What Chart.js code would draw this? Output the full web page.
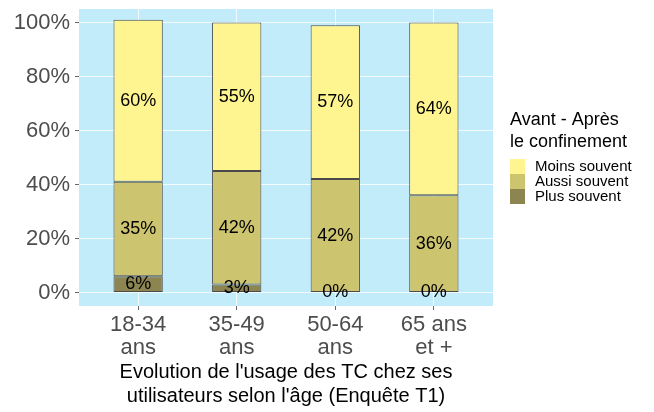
<!DOCTYPE html>
<html>
<head>
<meta charset="utf-8">
<script src="https://cdn.jsdelivr.net/npm/chart.js@4/dist/chart.umd.min.js"></script>
<style>
  html, body { margin: 0; padding: 0; background: #fff; }
  #wrap { width: 654px; height: 412px; }
</style>
</head>
<body>
<div id="wrap"><canvas id="chart" width="654" height="412"></canvas></div>
<script>
const ageGroups = [["18-34", "ans"], ["35-49", "ans"], ["50-64", "ans"], ["65 ans", "et +"]];
const plusSouvent = [6, 3, 0, 0];
const aussiSouvent = [35, 42, 42, 36];
const moinsSouvent = [60, 55, 57, 64];
const yTicks = [0, 20, 40, 60, 80, 100];

const seriesNames = ["Plus souvent", "Aussi souvent", "Moins souvent"];
const seriesColors = ["#8d8551", "#cdc46f", "#fef591"];
const legendTitle = ["Avant - Après", "le confinement"];
const axisTitle = ["Evolution de l'usage des TC chez ses", "utilisateurs selon l'âge (Enquête T1)"];

const FONT = "'Liberation Sans', Arial, sans-serif";

function toPoints(values) {
  return values.map((v, i) => ({ x: i + 1, y: v }));
}

// light blue panel behind the plot
const panelBg = {
  id: "panelBg",
  beforeDraw(chart) {
    const { ctx, chartArea: a } = chart;
    ctx.save();
    ctx.fillStyle = "#c3ecfa";
    ctx.fillRect(a.left, a.top, a.right - a.left, a.bottom - a.top);
    ctx.restore();
  }
};

// percent labels centred in each segment
const segLabels = {
  id: "segLabels",
  afterDatasetsDraw(chart) {
    const { ctx } = chart;
    ctx.save();
    ctx.font = "18px " + FONT;
    ctx.fillStyle = "#000";
    ctx.textAlign = "center";
    ctx.textBaseline = "middle";
    chart.data.datasets.forEach((ds, di) => {
      const meta = chart.getDatasetMeta(di);
      meta.data.forEach((bar, i) => {
        const v = ds.data[i].y;
        ctx.fillText(v + "%", bar.x, (bar.y + bar.base) / 2);
      });
    });
    ctx.restore();
  }
};

// x axis title and legend, drawn by hand
const extras = {
  id: "extras",
  afterDraw(chart) {
    const { ctx, chartArea: a } = chart;
    ctx.save();
    ctx.fillStyle = "#000";
    ctx.textBaseline = "middle";

    ctx.font = "20px " + FONT;
    ctx.textAlign = "center";
    const cx = (a.left + a.right) / 2;
    ctx.fillText(axisTitle[0], cx, 372);
    ctx.fillText(axisTitle[1], cx, 396);

    ctx.textAlign = "left";
    ctx.textBaseline = "alphabetic";
    ctx.font = "18px " + FONT;
    ctx.fillText(legendTitle[0], 510, 125);
    ctx.fillText(legendTitle[1], 510, 147);

    ctx.font = "15px " + FONT;
    ctx.textBaseline = "middle";
    for (let k = 0; k < 3; k++) {
      const idx = 2 - k;
      const y = 159 + k * 15;
      ctx.fillStyle = seriesColors[idx];
      ctx.fillRect(510, y, 15, 15);
      ctx.fillStyle = "#000";
      ctx.fillText(seriesNames[idx], 535, y + 8);
    }
    ctx.restore();
  }
};

const ctx = document.getElementById("chart").getContext("2d");
new Chart(ctx, {
  type: "bar",
  data: {
    datasets: [plusSouvent, aussiSouvent, moinsSouvent].map((vals, i) => ({
      label: seriesNames[i],
      data: toPoints(vals),
      backgroundColor: seriesColors[i],
      borderColor: "#4a4a4a",
      borderWidth: 1,
      borderSkipped: false,
      barPercentage: 0.5,
      categoryPercentage: 1
    }))
  },
  options: {
    responsive: false,
    animation: false,
    layout: { padding: { top: 9, right: 161, left: 0, bottom: 0 } },
    plugins: { legend: { display: false }, tooltip: { enabled: false } },
    scales: {
      x: {
        type: "linear",
        stacked: true,
        offset: false,
        min: 0.4,
        max: 4.6,
        afterBuildTicks(scale) { scale.ticks = ageGroups.map((g, i) => ({ value: i + 1 })); },
        afterFit(scale) { scale.height = 106; scale.paddingLeft = 0; scale.paddingRight = 0; },
        border: { display: false },
        grid: { offset: false, color: "rgba(255,255,255,0.8)", lineWidth: 1, tickLength: 4, tickColor: "#666" },
        ticks: {
          callback: (v) => ageGroups[v - 1],
          color: "#4d4d4d",
          font: { family: FONT, size: 22, lineHeight: 1.05 },
          padding: 3,
          maxRotation: 0
        }
      },
      y: {
        stacked: true,
        min: -5,
        max: 105,
        afterBuildTicks(scale) { scale.ticks = yTicks.map(v => ({ value: v })); },
        afterFit(scale) { scale.width = 79; scale.paddingTop = 0; scale.paddingBottom = 0; },
        border: { display: false },
        grid: { color: "rgba(255,255,255,0.8)", lineWidth: 1, tickLength: 4, tickColor: "#666" },
        ticks: {
          callback: (v) => v + "%",
          color: "#4d4d4d",
          font: { family: FONT, size: 22 },
          padding: 5
        }
      }
    }
  },
  plugins: [panelBg, segLabels, extras]
});
</script>
</body>
</html>
